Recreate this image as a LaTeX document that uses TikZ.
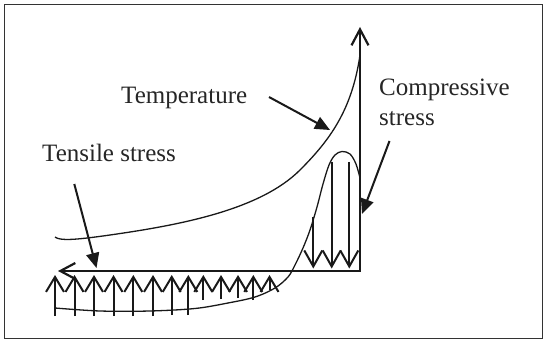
\documentclass[tikz,border=0pt]{standalone}
\usepackage{fontspec}
\setmainfont{Liberation Serif}
\usetikzlibrary{arrows.meta}
\begin{document}
\begin{tikzpicture}[x=1pt,y=-1pt,
  lbl/.style={font=\fontsize{25}{30}\selectfont, inner sep=0pt, text=black!85},
  axisline/.style={line width=2.2pt, line join=miter, draw=black!90,
    {Straight Barb[length=15pt,width=16pt]}-{Straight Barb[length=16pt,width=17pt]}},
  curveline/.style={line width=1.3pt, draw=black!90},
  uparrow/.style={line width=2pt, draw=black!90, -{Straight Barb[length=15pt,width=18pt]}},
  downarrow/.style={line width=2pt, draw=black!90, -{Straight Barb[length=16pt,width=18pt]}},
  pointer/.style={line width=2pt, draw=black!90, -{Triangle[length=15pt,width=13pt]}},
  frame/.style={line width=1.5pt, draw=black!80}
]
\useasboundingbox (0,0) rectangle (550,345);
\draw[frame] (4.5,4.5) rectangle (542.5,338.5);

% axes
\coordinate (hEnd) at (58,271);
\coordinate (corner) at (360,271);
\coordinate (vEnd) at (360,27);
\draw[axisline] (hEnd) -- (corner) -- (vEnd);

% temperature curve
\draw[curveline] (55,237) .. controls (60,241) and (75,240) .. (110,235)
  .. controls (180,225) and (260,210) .. (300,170)
  .. controls (330,140) and (352,110) .. (360,55);

% stress curve (tensile part and compressive bell)
\draw[curveline] plot[smooth, tension=0.55] coordinates {
  (55,308) (100,311) (150,311) (195,308.5) (228,303) (255,297) (275,288)
  (288,277) (295,265) (303,248) (310,230) (317,207) (323,184) (329,165)
  (335,155) (342,151.5) (350,154) (356,164) (360,178)};

% tensile (upward) arrows
\foreach \x/\b in {55/316, 74.5/316, 94/316, 113.5/316, 133.3/316, 153/316,
                   171.7/315, 188.3/315, 203.3/300, 221/299, 238/298,
                   253.3/300, 269.5/290}{
  \draw[uparrow] (\x,\b) -- (\x,275);
}

% compressive (downward) arrows
\foreach \x/\t in {313.3/216.7, 331.7/161.7, 349.3/162}{
  \draw[downarrow] (\x,\t) -- (\x,268.5);
}

% labels
\node[lbl, anchor=base west] (temp) at (121,104) {Temperature};
\node[lbl, anchor=base west] (tens) at (42,162) {Tensile stress};
\node[lbl, anchor=north west, align=left] (comp) at (379,79) {Compressive\\stress};

% pointer arrows
\coordinate (tempFrom) at (269,97);
\coordinate (tempTo) at (330,130);
\coordinate (compFrom) at (389.5,141);
\coordinate (compTo) at (362,214);
\coordinate (tensFrom) at (74.3,184);
\coordinate (tensTo) at (96.5,268);
\draw[pointer] (tempFrom) -- (tempTo);
\draw[pointer] (compFrom) -- (compTo);
\draw[pointer] (tensFrom) -- (tensTo);
\end{tikzpicture}
\end{document}
